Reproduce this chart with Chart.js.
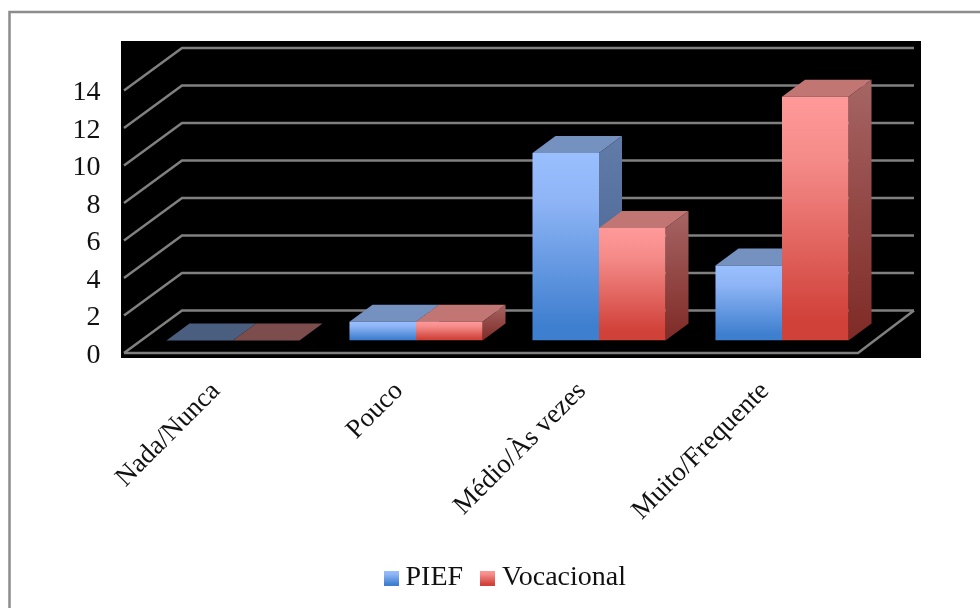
<!DOCTYPE html>
<html>
<head>
<meta charset="utf-8">
<style>
  html, body { margin: 0; padding: 0; background: #fff; }
  #wrap { position: relative; width: 980px; height: 608px; }
</style>
<script src="https://cdn.jsdelivr.net/npm/chart.js@4"></script>
</head>
<body>
<div id="wrap"><canvas id="chart" width="980" height="608"></canvas></div>
<script>
//----- DATA -----//
const categories = ['Nada/Nunca', 'Pouco', 'Médio/Às vezes', 'Muito/Frequente'];
const piefValues = [0, 1, 10, 4];
const vocacionalValues = [0, 1, 6, 13];
const yTicks = [0, 2, 4, 6, 8, 10, 12, 14];

//----- STYLE -----//
const FONT = { family: '"Liberation Serif", serif', size: 28 };
const X_FONT = { family: '"Liberation Serif", serif', size: 27 };
const TEXT = '#111';
const WALL = '#808080';
// how far the 3D walls and the bars are pushed back
const BAR_DX = 23, BAR_DY = 17;
const BACK_DY = 30, FRONT_DY = 12.5;
const PLOT_BOX = { left: 121, top: 41, right: 921, bottom: 358 };
const FLOOR = { frontLeft: 124, frontRight: 858, backLeft: 182, backRight: 914 };

const blue = {
    front: ['#9abfff', '#8fb5f6', '#3f7fcf'],
    side: ['#617ca9', '#45608c'],
    top: '#7591bf',
    flat: '#4a5f80'
};
const red = {
    front: ['#ff9999', '#f58c8a', '#d04139'],
    side: ['#a66564', '#7f2a26'],
    top: '#c17674',
    flat: '#7d4c4c'
};

function frontGradient(ctx, top, bottom, cols) {
    const g = ctx.createLinearGradient(0, top, 0, bottom);
    g.addColorStop(0, cols[0]);
    g.addColorStop(0.25, cols[1]);
    g.addColorStop(0.92, cols[2]);
    g.addColorStop(1, cols[2]);
    return g;
}

function barFill(cols) {
    return function (context) {
        const chart = context.chart;
        if (context.parsed === undefined || context.parsed.y === undefined) return cols[0];
        const top = chart.scales.y.getPixelForValue(context.parsed.y);
        const bottom = chart.scales.y.getPixelForValue(0);
        return frontGradient(chart.ctx, top, Math.max(bottom, top + 1), cols);
    };
}

// legend swatch keeps the same gradient as the bars
function swatch(cols) {
    const c = document.createElement('canvas');
    c.width = 15;
    c.height = 15;
    const x = c.getContext('2d');
    x.fillStyle = frontGradient(x, 0, 15, cols);
    x.fillRect(0, 0, 15, 15);
    return c;
}
const swatches = [swatch(blue.front), swatch(red.front)];

//----- PLUGINS -----//
const backdrop = {
    id: 'backdrop',
    beforeDraw(chart) {
        const { ctx, scales: { y } } = chart;
        ctx.save();
        // only the left and top edges of the frame are in the picture
        ctx.strokeStyle = '#8c8c8c';
        ctx.lineWidth = 2.5;
        ctx.beginPath();
        ctx.moveTo(9.5, 608);
        ctx.lineTo(9.5, 12);
        ctx.lineTo(980, 12);
        ctx.stroke();

        ctx.fillStyle = '#000';
        ctx.fillRect(PLOT_BOX.left, PLOT_BOX.top, PLOT_BOX.right - PLOT_BOX.left, PLOT_BOX.bottom - PLOT_BOX.top);

        ctx.strokeStyle = WALL;
        ctx.lineWidth = 2.5;
        yTicks.forEach(t => {
            const p = y.getPixelForValue(t);
            ctx.beginPath();
            ctx.moveTo(FLOOR.frontLeft, p + FRONT_DY);
            ctx.lineTo(FLOOR.backLeft, p - BACK_DY);
            ctx.lineTo(FLOOR.backRight, p - BACK_DY);
            ctx.stroke();
        });
        // floor
        const p0 = y.getPixelForValue(0);
        ctx.beginPath();
        ctx.moveTo(FLOOR.frontLeft, p0 + FRONT_DY);
        ctx.lineTo(FLOOR.frontRight, p0 + FRONT_DY);
        ctx.lineTo(FLOOR.backRight, p0 - BACK_DY);
        ctx.stroke();
        ctx.restore();
    }
};

const depth = {
    id: 'depth',
    beforeDatasetsDraw(chart) {
        const ctx = chart.ctx;
        const looks = [blue, red];
        looks.forEach((look, i) => {
            chart.getDatasetMeta(i).data.forEach(bar => {
                const { x, y, base, width } = bar.getProps(['x', 'y', 'base', 'width']);
                const l = x - width / 2, r = x + width / 2;
                const flat = base - y < 1;

                ctx.fillStyle = flat ? look.flat : look.top;
                ctx.beginPath();
                ctx.moveTo(l, y);
                ctx.lineTo(l + BAR_DX, y - BAR_DY);
                ctx.lineTo(r + BAR_DX, y - BAR_DY);
                ctx.lineTo(r, y);
                ctx.closePath();
                ctx.fill();

                if (flat) return;
                const g = ctx.createLinearGradient(0, y - BAR_DY, 0, base);
                g.addColorStop(0, look.side[0]);
                g.addColorStop(1, look.side[1]);
                ctx.fillStyle = g;
                ctx.beginPath();
                ctx.moveTo(r, y);
                ctx.lineTo(r + BAR_DX, y - BAR_DY);
                ctx.lineTo(r + BAR_DX, base - BAR_DY);
                ctx.lineTo(r, base);
                ctx.closePath();
                ctx.fill();
            });
        });
    }
};

const legendShift = {
    id: 'legendShift',
    afterLayout(chart) {
        chart.legend.left += 71.5;
        chart.legend.right += 71.5;
        chart.legend.top -= 6;
        chart.legend.bottom -= 6;
    }
};

//----- CONFIG -----//
const data = {
    labels: categories,
    datasets: [{
        label: 'PIEF',
        data: piefValues,
        backgroundColor: barFill(blue.front),
        categoryPercentage: 0.727,
        barPercentage: 1
    }, {
        label: 'Vocacional',
        data: vocacionalValues,
        backgroundColor: barFill(red.front),
        categoryPercentage: 0.727,
        barPercentage: 1
    }]
};

const config = {
    type: 'bar',
    data: data,
    plugins: [backdrop, depth, legendShift],
    options: {
        responsive: false,
        animation: false,
        layout: { padding: { top: 78, right: 106.5, bottom: 0, left: 0 } },
        plugins: {
            tooltip: { enabled: false },
            legend: {
                position: 'bottom',
                labels: {
                    font: FONT,
                    color: TEXT,
                    usePointStyle: true,
                    boxWidth: 1,
                    boxHeight: 15,
                    padding: 24,
                    generateLabels: () => data.datasets.map((d, i) => ({
                        text: d.label,
                        datasetIndex: i,
                        pointStyle: swatches[i],
                        fontColor: TEXT,
                        lineWidth: 0
                    }))
                }
            }
        },
        scales: {
            x: {
                grid: { display: false },
                border: { display: false },
                ticks: {
                    font: X_FONT,
                    color: TEXT,
                    minRotation: 45,
                    maxRotation: 45,
                    autoSkip: false,
                    padding: 27,
                    labelOffset: -17
                },
                afterFit(s) {
                    s.height = 267.5 - s.chart.legend.height;
                    s.paddingLeft = 0;
                    s.paddingRight = 0;
                }
            },
            y: {
                min: 0,
                max: 14,
                grid: { display: false, drawTicks: false },
                border: { display: false },
                ticks: {
                    font: FONT,
                    color: TEXT,
                    stepSize: 2,
                    padding: 41,
                    labelOffset: 15
                },
                afterFit(s) {
                    s.width = 141.5;
                    s.paddingTop = 0;
                    s.paddingBottom = 0;
                }
            }
        }
    }
};

//----- RENDER -----//
const chart = new Chart(document.getElementById('chart'), config);
</script>
</body>
</html>
